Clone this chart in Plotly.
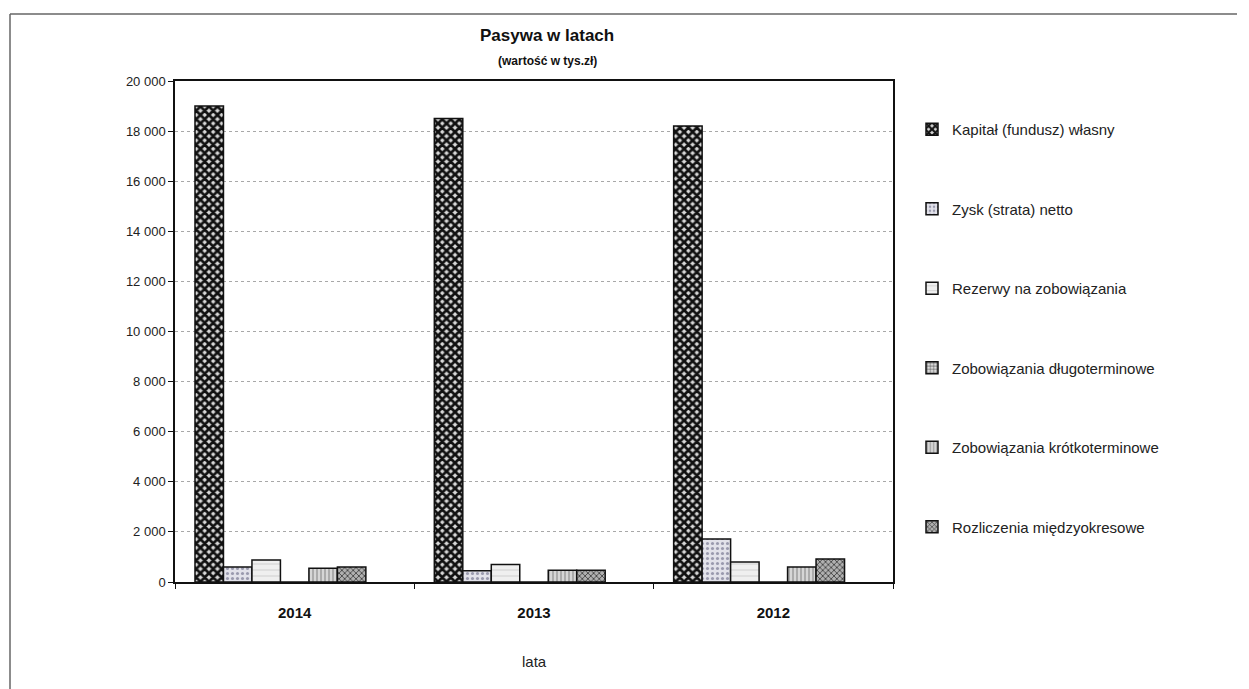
import plotly.graph_objects as go

years = ["2014", "2013", "2012"]
series_names = [
    "Kapitał (fundusz) własny",
    "Zysk (strata) netto",
    "Rezerwy na zobowiązania",
    "Zobowiązania długoterminowe",
    "Zobowiązania krótkoterminowe",
    "Rozliczenia międzyokresowe",
]
kapital = [19000, 18500, 18200]
zysk = [600, 450, 1720]
rezerwy = [880, 700, 800]
zob_dlugo = [0, 0, 0]
zob_krotko = [550, 470, 600]
rozliczenia = [600, 470, 920]
values = [kapital, zysk, rezerwy, zob_dlugo, zob_krotko, rozliczenia]

styles = [
    dict(bg="#d8d8d8", fg="#111111", shape="x", size=6, sol=0.7),
    dict(bg="#e2e2ea", fg="#9a9aae", shape=".", size=5, sol=0.3),
    dict(bg="#efefef", fg="#d4d4d4", shape="-", size=6, sol=0.2),
    dict(bg="#dddddd", fg="#444444", shape="+", size=4, sol=0.3),
    dict(bg="#d6d6d6", fg="#999999", shape="|", size=4, sol=0.35),
    dict(bg="#b0b0b0", fg="#333333", shape="x", size=4, sol=0.35),
]

fig = go.Figure()
for i, (name, vals, st) in enumerate(zip(series_names, values, styles)):
    fig.add_trace(go.Bar(
        x=years, y=vals, name=name, legendgroup=f"g{i}",
        marker=dict(
            color=st["bg"],
            line=dict(color="#111111", width=1.5),
            pattern=dict(shape=st["shape"], fgcolor=st["fg"], bgcolor=st["bg"],
                         size=st["size"], solidity=st["sol"], fillmode="replace"),
        ),
    ))
# empty slot at the end of each group (as in the original layout)
fig.add_trace(go.Bar(x=years, y=[0, 0, 0], showlegend=False, hoverinfo="skip",
                     marker=dict(color="rgba(0,0,0,0)", line=dict(width=0))))

L, R, T, B = 175, 893, 81, 582
W, H = R - L, B - T

def px(x):
    return (x - L) / W

def py(y):
    return (B - y) / H

fig.update_layout(
    width=1249, height=689,
    margin=dict(l=L, r=1249 - R, t=T, b=689 - B),
    paper_bgcolor="white", plot_bgcolor="white",
    barmode="group", bargap=0.167, bargroupgap=0,
    separators=", ",
    font=dict(family="Liberation Sans, Arial, sans-serif", color="#222222"),
    showlegend=True,
    legend=dict(x=px(912), y=py(113), xanchor="left", yanchor="top",
                font=dict(size=15, color="#222222"), tracegroupgap=57,
                bgcolor="rgba(0,0,0,0)", itemwidth=30),
    xaxis=dict(
        type="category", showline=True, linecolor="#111111", linewidth=1.5,
        mirror=True, ticks="outside", tickson="boundaries", ticklen=5,
        tickcolor="#111111", showgrid=False, ticklabelstandoff=16,
        tickfont=dict(size=15, color="#111111", family="Liberation Sans, Arial, sans-serif"),
        tickprefix="<b>", ticksuffix="</b>",
    ),
    yaxis=dict(
        range=[0, 20000], dtick=2000, tickformat=",d",
        showline=True, linecolor="#111111", linewidth=1.5, mirror=True,
        ticks="outside", ticklen=5, tickcolor="#111111",
        showgrid=True, gridcolor="#a8a8a8", griddash="dot", gridwidth=1,
        tickfont=dict(size=13, color="#222222"), zeroline=False,
    ),
    annotations=[
        dict(text="<b>Pasywa w latach</b>", x=px(547), y=py(35), xref="paper", yref="paper",
             xanchor="center", yanchor="middle",
             showarrow=False, font=dict(size=17, color="#111111")),
        dict(text="<b>(wartość w tys.zł)</b>", x=px(547), y=py(61), xref="paper", yref="paper",
             xanchor="center", yanchor="middle",
             showarrow=False, font=dict(size=12, color="#111111")),
        dict(text="lata", x=px(534), y=py(661), xref="paper", yref="paper",
             xanchor="center", yanchor="middle",
             showarrow=False, font=dict(size=15, color="#222222")),
    ],
    shapes=[
        dict(type="line", xref="paper", yref="paper", x0=px(10), x1=px(1237), y0=py(14), y1=py(14),
             line=dict(color="#666666", width=1.5)),
        dict(type="line", xref="paper", yref="paper", x0=px(10), x1=px(10), y0=py(14), y1=py(700),
             line=dict(color="#666666", width=1.5)),
    ],
)

fig.write_html("out.html")
